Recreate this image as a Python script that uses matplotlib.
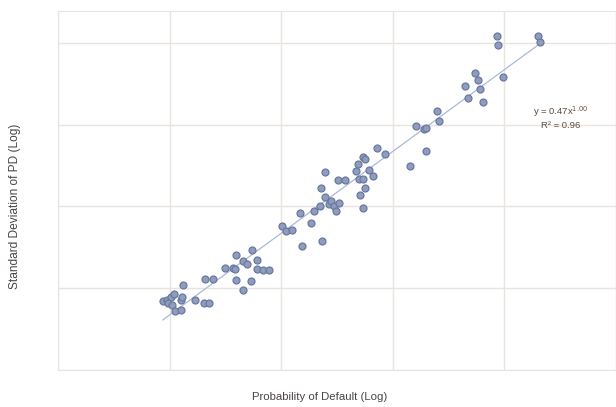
import numpy as np
import matplotlib.pyplot as plt

#---------------------------------------------------------------
# values (log10 of PD and of std dev of PD)
log_pd = [-4.06, -4.02, -3.99, -3.96, -4.01, -3.98, -3.90, -3.89, -3.88, -3.95,
          -3.90, -3.77, -3.69, -3.65, -3.68, -3.61, -3.50, -3.43, -3.41, -3.40,
          -3.40, -3.34, -3.34, -3.31, -3.26, -3.22, -3.22, -3.16, -3.11, -3.27,
          -2.99, -2.96, -2.90, -2.83, -2.81, -2.73, -2.71, -2.65, -2.63, -2.64,
          -2.61, -2.61, -2.57, -2.55, -2.53, -2.51, -2.48, -2.49, -2.43, -2.33,
          -2.31, -2.30, -2.27, -2.29, -2.27, -2.25, -2.27, -2.25, -2.21, -2.18,
          -2.14, -2.07, -1.85, -1.79, -1.72, -1.70, -1.70, -1.60, -1.59, -1.35,
          -1.33, -1.26, -1.24, -1.22, -1.19, -1.07, -1.06, -1.01, -0.70, -0.68]
log_sd = [-4.16, -4.15, -4.11, -4.07, -4.18, -4.20, -4.15, -4.11, -3.96, -4.28,
          -4.27, -4.15, -4.18, -4.18, -3.89, -3.89, -3.75, -3.75, -3.77, -3.60,
          -3.90, -4.02, -3.67, -3.71, -3.53, -3.66, -3.77, -3.78, -3.78, -3.91,
          -3.24, -3.30, -3.29, -3.08, -3.48, -3.20, -3.05, -2.99, -3.42, -2.78,
          -2.89, -2.58, -2.97, -2.93, -2.99, -3.06, -2.96, -2.68, -2.68, -2.57,
          -2.48, -2.66, -2.66, -2.86, -3.02, -2.78, -2.39, -2.42, -2.55, -2.63,
          -2.28, -2.36, -2.51, -2.02, -2.05, -2.04, -2.32, -1.83, -1.96, -1.53,
          -1.68, -1.37, -1.46, -1.57, -1.72, -0.92, -1.02, -1.42, -0.92, -0.99]

# power trend line shown on the chart
coef = 0.47
expo = 1.00
r2 = 0.96

pd_vals = 10 ** np.array(log_pd)
sd_vals = 10 ** np.array(log_sd)

#---------------------------------------------------------------
fig = plt.figure(figsize=(6.16, 4.07), dpi=100)
ax = fig.add_axes([0.094, 0.091, 0.906, 0.882])

ax.set_xscale('log')
ax.set_yscale('log')
ax.set_xlim(1e-5, 1e0)
ax.set_ylim(1e-5, 10 ** -0.61)

# grid at each decade, no tick labels
ax.grid(True, which='major', color='#e8e4e0', linewidth=1.0)
ax.minorticks_off()
ax.tick_params(which='both', length=0, labelbottom=False, labelleft=False)
for s in ax.spines.values():
    s.set_color('#e8e4e0')
ax.set_axisbelow(True)

# trend line
xt = np.logspace(min(log_pd), max(log_pd), 50)
ax.plot(xt, coef * xt ** expo, color='#a9bad9', linewidth=0.9, zorder=2)

# scatter
ax.scatter(pd_vals, sd_vals, s=25, facecolor='#8e9dbf', edgecolor='#6a789c',
           linewidth=0.9, zorder=3)

# equation text
txt_col = '#5c4b40'
fig.text(561 / 616, 1 - 112 / 407, 'y = 0.47x$^{1.00}$', ha='center', va='center',
         fontsize=6.8, color=txt_col, family='Liberation Sans')
fig.text(561 / 616, 1 - 125 / 407, 'R² = %.2f' % r2, ha='center', va='center',
         fontsize=6.8, color=txt_col, family='Liberation Sans')

# axis labels
fig.text(320 / 616, 1 - 397 / 407, 'Probability of Default (Log)', ha='center',
         va='center', fontsize=8.2, color='#4a4444', family='Liberation Sans')
fig.text(15 / 616, 1 - 206 / 407, 'Standard Deviation of PD (Log)', ha='center',
         va='center', rotation=90, fontsize=8.6, color='#4a4444',
         family='Liberation Sans')

fig.savefig('out.png', dpi=100)
